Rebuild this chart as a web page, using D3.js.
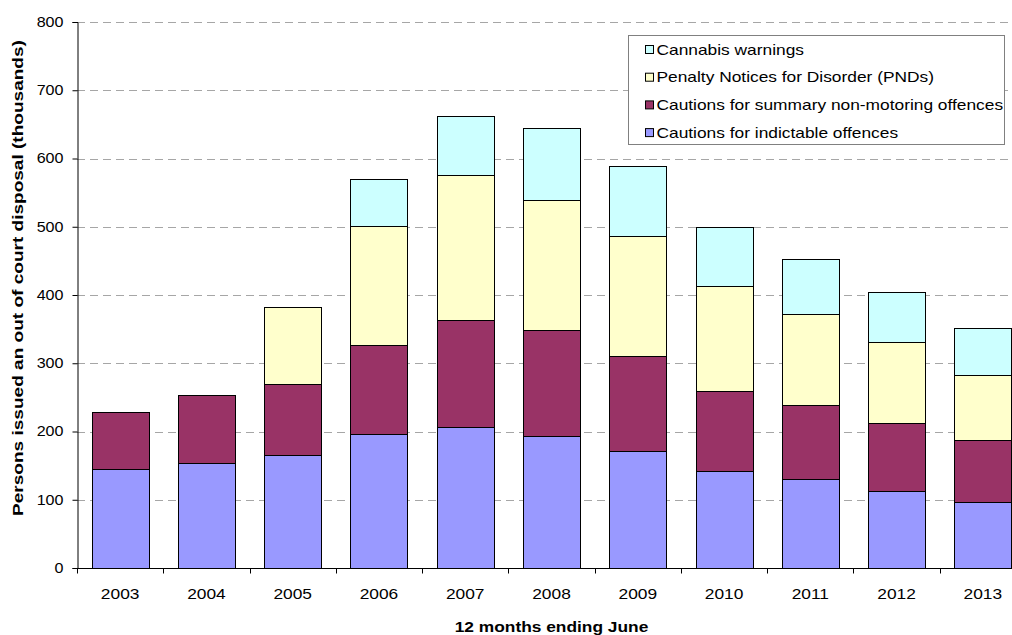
<!DOCTYPE html>
<html>
<head>
<meta charset="utf-8">
<script src="https://cdn.jsdelivr.net/npm/d3@7"></script>
<style>
  body { margin: 0; background: #fff; }
  svg { display: block; font-family: "Liberation Sans", Arial, sans-serif; }
</style>
</head>
<body>
<div class="container"></div>
<script>
// categories and series (thousands)
var years = ["2003","2004","2005","2006","2007","2008","2009","2010","2011","2012","2013"];
var indictable = [145,154,165,196,207,194,171,142,130,113,97];
var summary    = [84,99,104,131,156,154,140,118,109,100,90];
var pnds       = [0,0,113,174,213,191,176,153,133,118,96];
var cannabis   = [0,0,0,69,86,106,102,86,81,74,69];
var yTicks = [0,100,200,300,400,500,600,700,800];

var seriesNames = ["Cautions for indictable offences","Cautions for summary non-motoring offences","Penalty Notices for Disorder (PNDs)","Cannabis warnings"];
var seriesColors = ["#9999ff","#993366","#ffffcc","#ccffff"];
var keys = ["indictable","summary","pnds","cannabis"];

var w = 1012, h = 635;
// plot area (right edge runs past the window, as in the reference)
var plotLeft = 77, plotRight = 1026, plotTop = 22, plotBottom = 568;
// the reference text is drawn wider than Arial normally is
var stretch = 1.24;

var svg = d3.select(".container")
  .append("svg")
  .attr("width", w)
  .attr("height", h);

// build rows for the stack
var rows = years.map(function(yr, i) {
  return {year: yr, indictable: indictable[i], summary: summary[i], pnds: pnds[i], cannabis: cannabis[i]};
});
var stacked = d3.stack().keys(keys)(rows);

var x = d3.scaleBand()
  .domain(years)
  .range([plotLeft, plotRight])
  .paddingInner(0.34)
  .paddingOuter(0.17);
var xEdges = d3.scaleBand().domain(years).range([plotLeft, plotRight]);

var y = d3.scaleLinear()
  .domain([0, 800])
  .range([plotBottom, plotTop]);

// gridlines
svg.append("g")
  .selectAll("line")
  .data(yTicks.filter(function(d){ return d > 0; }))
  .enter().append("line")
  .attr("x1", plotLeft).attr("x2", plotRight)
  .attr("y1", function(d){ return Math.round(y(d)) + 0.5; })
  .attr("y2", function(d){ return Math.round(y(d)) + 0.5; })
  .attr("stroke", "#a6a6a6")
  .attr("stroke-dasharray", "8,5");

// bars
var layer = svg.append("g").selectAll("g")
  .data(stacked)
  .enter().append("g")
  .attr("fill", function(d, i){ return seriesColors[i]; });

layer.selectAll("rect")
  .data(function(d){ return d.filter(function(s){ return s[1] - s[0] > 0; }); })
  .enter().append("rect")
  .attr("x", function(d){ return Math.round(x(d.data.year)) + 0.5; })
  .attr("width", Math.round(x.bandwidth()))
  .attr("y", function(d){ return Math.round(y(d[1])) + 0.5; })
  .attr("height", function(d){ return Math.round(y(d[0])) - Math.round(y(d[1])); })
  .attr("stroke", "#000")
  .attr("stroke-width", 1);

// y axis
var yAxis = d3.axisLeft(y).tickValues(yTicks).tickSize(5).tickPadding(8);
svg.append("g")
  .attr("class", "yaxis")
  .attr("transform", "translate(" + (plotLeft + 0.5) + ",0)")
  .call(yAxis);

svg.selectAll(".yaxis path").attr("stroke", "#000");
svg.selectAll(".yaxis line").attr("stroke", "#000");
svg.selectAll(".yaxis text")
  .attr("x", null)
  .attr("transform", "translate(-14,0) scale(1.15,1)")
  .attr("font-size", "14px")
  .attr("font-family", "Liberation Sans, Arial, sans-serif")
  .attr("fill", "#000");

// x axis: ticks at category boundaries
var xAxisG = svg.append("g")
  .attr("transform", "translate(0," + (plotBottom + 0.5) + ")");
xAxisG.append("line")
  .attr("x1", plotLeft).attr("x2", plotRight)
  .attr("stroke", "#000");
xAxisG.selectAll(".edge")
  .data(years)
  .enter().append("line")
  .attr("class", "edge")
  .attr("x1", function(d){ return Math.round(xEdges(d)) + 0.5; })
  .attr("x2", function(d){ return Math.round(xEdges(d)) + 0.5; })
  .attr("y1", 0).attr("y2", 5)
  .attr("stroke", "#000");
xAxisG.selectAll("text")
  .data(years)
  .enter().append("text")
  .attr("transform", function(d){
    return "translate(" + (xEdges(d) + xEdges.bandwidth() / 2) + ",30) scale(" + stretch + ",1)";
  })
  .attr("text-anchor", "middle")
  .attr("font-size", "14px")
  .text(function(d){ return d; });

// axis titles
svg.append("text")
  .attr("transform", "translate(" + ((plotLeft + plotRight) / 2) + ",632) scale(" + stretch + ",1)")
  .attr("text-anchor", "middle")
  .attr("font-weight", "bold")
  .attr("font-size", "14px")
  .text("12 months ending June");

svg.append("text")
  .attr("transform", "translate(23,278) rotate(-90) scale(1.36,1)")
  .attr("text-anchor", "middle")
  .attr("font-weight", "bold")
  .attr("font-size", "14px")
  .text("Persons issued an out of court disposal (thousands)");

// legend
var legend = svg.append("g").attr("transform", "translate(628.5,35.5)");
legend.append("rect")
  .attr("width", 376).attr("height", 109)
  .attr("fill", "#fff")
  .attr("stroke", "#808080");
var legendOrder = [3, 2, 1, 0];
var item = legend.selectAll(".item")
  .data(legendOrder)
  .enter().append("g")
  .attr("transform", function(d, i){ return "translate(0," + (14 + i * 27.7) + ")"; });
item.append("rect")
  .attr("x", 17).attr("y", -4)
  .attr("width", 8).attr("height", 8)
  .attr("fill", function(d){ return seriesColors[d]; })
  .attr("stroke", "#000");
item.append("text")
  .attr("transform", "translate(28,5) scale(" + stretch + ",1)")
  .attr("font-size", "14px")
  .text(function(d){ return seriesNames[d]; });
</script>
</body>
</html>
